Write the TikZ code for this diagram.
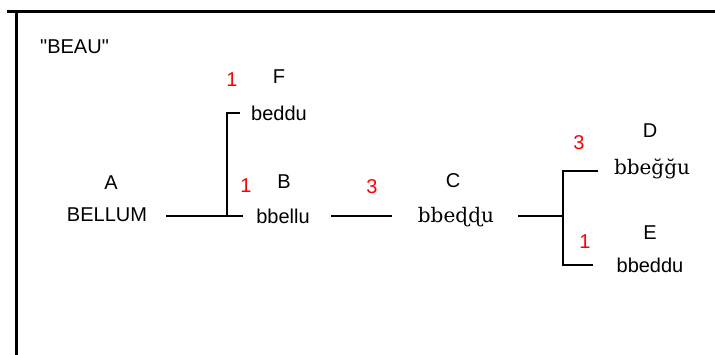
\documentclass[tikz,border=0pt]{standalone}
\usepackage{fontspec}
\setmainfont{Liberation Sans}[Ligatures=TeXOff]
\newfontfamily\phonfont{DejaVu Serif}
\begin{document}
\begin{tikzpicture}[x=1pt,y=-1pt,
  lbl/.style={inner sep=0pt,font=\fontsize{20}{22}\selectfont},
  wd/.style={inner sep=0pt,font=\fontsize{20}{22}\selectfont},
  ph/.style={inner sep=0pt,font=\phonfont\fontsize{20}{22}\selectfont},
  num/.style={inner sep=0pt,text=red,font=\fontsize{20}{22}\selectfont},
  br/.style={line width=1.3pt},
  frame/.style={line width=3pt}]
\useasboundingbox (0,0) rectangle (715,355);
% frame
\coordinate (ftl) at (7,12);
\coordinate (ftr) at (715,12);
\coordinate (fl1) at (16,12);
\coordinate (fl2) at (16,355);
\draw[frame] (ftl) -- (ftr);
\draw[frame] (fl1) -- (fl2);
% title
\node[lbl,anchor=west] (title) at (40,47) {"BEAU"};
% labels
\node[lbl] (A) at (111,183) {A};
\node[wd] (wA) at (107,215) {BELLUM};
\node[lbl] (F) at (279,77) {F};
\node[wd] (wF) at (279,113) {beddu};
\node[num] (nF) at (232,80) {1};
\node[lbl] (B) at (284,182) {B};
\node[wd] (wB) at (283,216) {bbellu};
\node[num] (nB) at (246,186) {1};
\node[num] (nC) at (372,187) {3};
\node[lbl] (C) at (453,181) {C};
\node[ph] (wC) at (456,217) {bbeɖɖu};
\node[num] (nD) at (579,143) {3};
\node[lbl] (D) at (650,131) {D};
\node[ph] (wD) at (652,169) {bbeğğu};
\node[num] (nE) at (585,242) {1};
\node[lbl] (E) at (650,233) {E};
\node[wd] (wE) at (650,265) {bbeddu};
% branch points
\coordinate (a1) at (166,216);
\coordinate (j1) at (227,216);
\coordinate (b1) at (243,216);
\coordinate (jF) at (227,113);
\coordinate (f1) at (240,113);
\coordinate (c1) at (331,216);
\coordinate (c2) at (392,216);
\coordinate (d1) at (518,216);
\coordinate (j2) at (563,216);
\coordinate (jD) at (563,171);
\coordinate (jE) at (563,265);
\coordinate (dD) at (598,171);
\coordinate (dE) at (593,265);
\draw[br] (a1) -- (b1);
\draw[br] (j1) -- (jF) -- (f1);
\draw[br] (c1) -- (c2);
\draw[br] (d1) -- (j2);
\draw[br] (dD) -- (jD) -- (jE) -- (dE);
\end{tikzpicture}
\end{document}
